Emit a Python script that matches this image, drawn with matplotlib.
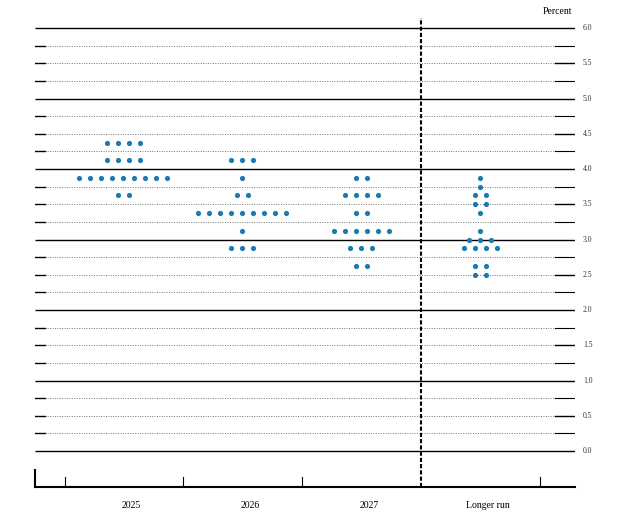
import matplotlib
matplotlib.use("Agg")
import matplotlib.pyplot as plt
import numpy as np

categories = ["2025", "2026", "2027", "Longer run"]
rates = [
    [4.375, 4.125, 3.875, 3.625],
    [4.125, 3.875, 3.625, 3.375, 3.125, 2.875],
    [3.875, 3.625, 3.375, 3.125, 2.875, 2.625],
    [3.875, 3.75, 3.625, 3.5, 3.375, 3.125, 3.0, 2.875, 2.625, 2.5],
]
counts = [
    [4, 4, 9, 2],
    [3, 1, 2, 9, 1, 3],
    [2, 4, 2, 6, 3, 2],
    [1, 1, 2, 2, 1, 1, 3, 4, 2, 2],
]
yticks = [0.0, 0.5, 1.0, 1.5, 2.0, 2.5, 3.0, 3.5, 4.0, 4.5, 5.0, 5.5, 6.0]

plt.rcParams['font.family'] = ['Liberation Serif']
fig = plt.figure(figsize=(6.18, 5.29), dpi=100)
ax = fig.add_axes([35/618, 1-487/529, 540/618, (487-21)/529])
xmin, xmax = 1 - 96/119, 4 + 87/119
ax.set_xlim(xmin, xmax)
ax.set_ylim(-0.51, 6.1)
for s in ax.spines.values():
    s.set_visible(False)
ax.set_xticks([]); ax.set_yticks([])

seg = 20/540*(xmax-xmin)
for k in range(0, 25):
    y = k*0.25
    if k % 4 == 0:
        ax.plot([xmin, xmax], [y, y], color='black', lw=1.0, solid_capstyle='butt')
    else:
        ax.plot([xmin, xmax-seg], [y, y], color='#777777', lw=0.7, ls=(0, (1, 1.5)))
        ax.plot([xmin, xmin+seg*0.5], [y, y], color='black', lw=1.0)
        ax.plot([xmax-seg, xmax], [y, y], color='black', lw=1.0 if k % 2 == 0 else 0.8)
for y in yticks:
    ax.text(xmax+8/540*(xmax-xmin)*1, y, f"{y:.1f}", fontsize=5.5, va='center', ha='left', color='#333333')
ax.text(xmax-0.02, 6.17, "Percent", fontsize=7, ha='right', va='bottom', clip_on=False)

# bottom axis
ax.plot([xmin, xmax], [-0.51, -0.51], color='black', lw=1.5, clip_on=False)
ax.plot([xmin, xmin], [-0.51, -0.27], color='black', lw=1.5, clip_on=False)
for t in [0.445, 1.437, 2.437, 4.437]:
    ax.plot([t, t], [-0.51, -0.37], color='black', lw=0.8)
ax.plot([3.437, 3.437], [-0.51, 6.14], color='black', lw=1.5, ls=(0, (2, 1)), clip_on=False)

for i, cat in enumerate(categories):
    xc = i + 1
    ax.text(xc, -0.77, cat, ha='center', va='center', fontsize=7)
    xd = xc - 0.067
    for r, n in zip(rates[i], counts[i]):
        xs = xd + (np.arange(n) - (n-1)/2) * 0.0925
        ax.scatter(xs, [r]*n, s=14, color='#1a7ab0', zorder=5, linewidths=0)

fig.savefig("out.png", dpi=100)
